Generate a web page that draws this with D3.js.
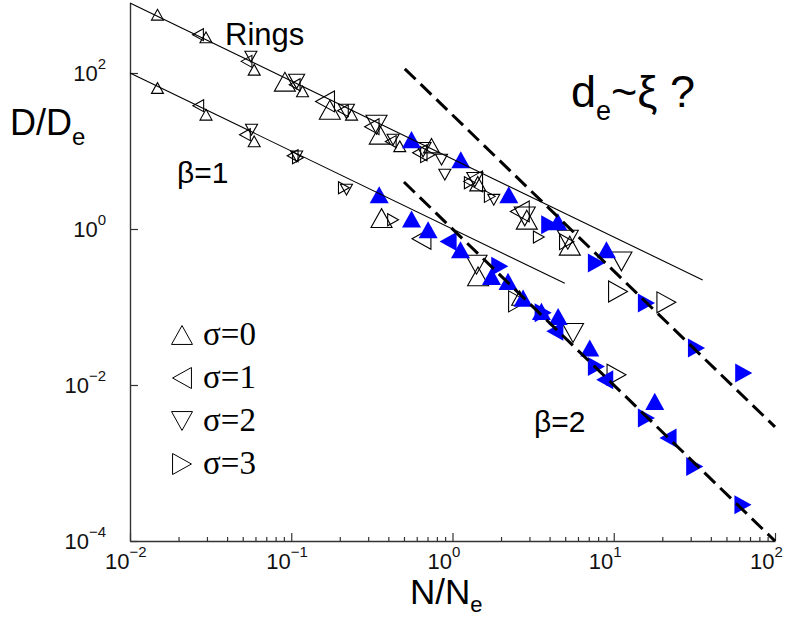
<!DOCTYPE html>
<html>
<head>
<meta charset="utf-8">
<script src="https://cdn.jsdelivr.net/npm/d3@7"></script>
<style>
  html, body { margin: 0; padding: 0; background: #fff; }
  svg { display: block; }
</style>
</head>
<body>
<svg id="chart" width="791" height="617"></svg>
<script>
// Diffusion D/De versus N/Ne on log-log axes.
// Each point: [N/Ne, D/De, sigma (0 up,1 left,2 down,3 right), symbol class]
const ringsOpen = [
  [0.0148, 559, 0, 'S'], [0.0264, 310, 1, 'S'], [0.0296, 286, 0, 'S'],
  [0.0562, 162, 2, 'S'], [0.0528, 141, 1, 'S'], [0.0589, 110, 0, 'S'],
  [0.0913, 77.3, 0, 'L'], [0.108, 78, 2, 'M'], [0.105, 70.8, 1, 'S'], [0.1175, 58.1, 0, 'S'],
  [0.162, 43.2, 1, 'L'], [0.1735, 33.8, 0, 'L'], [0.22, 32.2, 2, 'M'], [0.209, 32.9, 1, 'S'],
  [0.2365, 29.2, 0, 'S'], [0.338, 21.7, 2, 'L'], [0.316, 20.5, 1, 'M'], [0.354, 16.2, 0, 'L'],
  [0.428, 14.0, 2, 'S'], [0.414, 13.2, 1, 'S'], [0.471, 11.5, 0, 'S'],
  [0.657, 10.4, 2, 'M'], [0.627, 9.51, 1, 'M'], [0.741, 11.7, 0, 'M'], [0.703, 8.97, 3, 'M'],
  [0.855, 7.74, 2, 'S'], [0.896, 4.97, 2, 'S'],
  [1.342, 4.08, 1, 'L'], [1.375, 4.29, 2, 'M'], [1.435, 3.81, 0, 'M'], [1.28, 3.92, 3, 'S'],
  [1.703, 2.62, 3, 'S'], [1.803, 2.37, 2, 'S'],
  [2.614, 1.68, 1, 'L'], [2.807, 1.45, 2, 'L'], [2.889, 1.316, 0, 'L'], [3.43, 0.789, 3, 'S'],
  [5.19, 0.729, 2, 'L'], [5.11, 0.688, 3, 'M'], [5.34, 0.611, 0, 'L'],
  [11.16, 0.384, 2, 'L'], [10.63, 0.158, 3, 'L'], [21.2, 0.1147, 3, 'L']
];
const ringsFilled = [
  [0.557, 14.0, 0], [1.126, 7.74, 0], [2.234, 2.75, 0], [4.01, 1.135, 3], [4.50, 1.24, 0],
  [9.01, 0.543, 0], [7.81, 0.366, 3], [15.95, 0.1125, 3], [32.6, 0.0298, 3], [64.0, 0.01425, 3]
];
const chainsOpen = [
  [0.0148, 64.2, 0, 'S'], [0.0265, 38.1, 1, 'S'], [0.0296, 29.2, 0, 'S'],
  [0.0567, 18.8, 2, 'S'], [0.0516, 16.2, 1, 'S'], [0.0589, 13.3, 0, 'S'],
  [0.108, 8.53, 2, 'S'], [0.102, 8.7, 1, 'S'], [0.110, 8.2, 3, 'S'],
  [0.220, 3.19, 2, 'S'], [0.212, 3.38, 3, 'S'],
  [0.363, 1.38, 0, 'L'], [0.428, 1.316, 3, 'S'], [0.642, 0.751, 1, 'L'],
  [1.409, 0.348, 2, 'L'], [1.441, 0.247, 0, 'L'], [2.55, 0.118, 3, 'L'], [2.61, 0.130, 0, 'M'],
  [5.59, 0.0464, 2, 'L'], [10.4, 0.01355, 3, 'L']
];
const chainsFilled = [
  [0.351, 2.75, 0], [0.557, 1.344, 0], [0.706, 0.98, 0], [0.939, 0.693, 1], [1.121, 0.543, 0],
  [1.965, 0.332, 3], [1.745, 0.247, 0], [2.21, 0.213, 0], [2.74, 0.130, 0],
  [3.65, 0.0845, 3], [3.56, 0.0878, 0], [4.52, 0.0757, 0], [4.31, 0.0487, 1],
  [7.10, 0.0298, 0], [7.81, 0.0173, 3], [8.79, 0.0117, 1],
  [17.96, 0.00616, 0], [15.95, 0.00378, 3], [21.7, 0.00209, 1], [31.8, 0.000904, 3], [63.3, 0.000292, 3]
];
// Power-law guides: D ~ N^-1 (solid) and D ~ N^-2 (dashed), given by end points
const guideLines = [
  { pts: [[0.01, 790], [35.6, 0.222]], dashed: false },
  { pts: [[0.01, 100], [4.97, 0.201]], dashed: false },
  { pts: [[0.506, 113], [100, 0.0029]], dashed: true },
  { pts: [[0.5, 4], [100, 1e-4]], dashed: true }
];
const xTicks = [1e-2, 1e-1, 1e0, 1e1, 1e2];
const xTickExp = ['\u22122', '\u22121', '0', '1', '2'];
const yTicks = [1e-4, 1e-2, 1e0, 1e2];
const yTickExp = ['\u22124', '\u22122', '0', '2'];
const legendLabels = ['\u03c3=0', '\u03c3=1', '\u03c3=2', '\u03c3=3'];

const svg = d3.select('#chart');
const x = d3.scaleLog().domain([1e-2, 1e2]).range([130, 775]);
const y = d3.scaleLog().domain([1e-4, Math.pow(10, 2.9)]).range([541, 2.8]);
const symSize = d3.scaleOrdinal().domain(['S', 'M', 'L', 'F']).range([12, 16, 21, 19]);

const closed = d3.line().curve(d3.curveLinearClosed);
function triangle(sigma, w) {
  const h = w * 0.9;
  const up = [[0, -h / 2], [w / 2, h / 2], [-w / 2, h / 2]];
  const rot = [0, -90, 180, 90][sigma] * Math.PI / 180;
  return closed(up.map(([px, py]) => [px * Math.cos(rot) - py * Math.sin(rot), px * Math.sin(rot) + py * Math.cos(rot)]));
}

// axes
const axisColor = '#333';
svg.append('g').attr('transform', 'translate(0,541)')
  .call(d3.axisBottom(x).tickValues(xTicks).tickSize(-8).tickSizeOuter(0).tickFormat(''));
const minor = [];
for (let e = -2; e < 2; e++) for (let m = 2; m <= 9; m++) minor.push(m * Math.pow(10, e));
svg.append('g').attr('transform', 'translate(0,541)')
  .call(d3.axisBottom(x).tickValues(minor).tickSize(-4).tickSizeOuter(0).tickFormat(''))
  .select('.domain').remove();
svg.append('g').attr('transform', 'translate(130,0)')
  .call(d3.axisLeft(y).tickValues(yTicks).tickSize(-8).tickSizeOuter(0).tickFormat(''));
svg.selectAll('.domain').attr('stroke', axisColor).attr('stroke-width', 1.4);
svg.selectAll('.tick line').attr('stroke', axisColor).attr('stroke-width', 1.2);

const tickFont = 'Liberation Sans, Arial, sans-serif';
xTicks.forEach((v, i) => {
  const t = svg.append('text').attr('x', x(v) - 25).attr('y', 569)
    .attr('font-family', tickFont).attr('font-size', 22).attr('fill', '#111');
  t.append('tspan').text('10');
  t.append('tspan').attr('dy', -12).attr('font-size', 15).text(xTickExp[i]);
});
yTicks.forEach((v, i) => {
  const t = svg.append('text').attr('x', 106).attr('y', y(v) + 8).attr('text-anchor', 'end')
    .attr('font-family', tickFont).attr('font-size', 22).attr('fill', '#111');
  t.append('tspan').text('10');
  t.append('tspan').attr('dy', -12).attr('font-size', 15).text(yTickExp[i]);
});

// axis titles
const yt = svg.append('text').attr('x', 10).attr('y', 135)
  .attr('font-family', tickFont).attr('font-size', 36).attr('fill', '#000');
yt.append('tspan').text('D/D');
yt.append('tspan').attr('dy', 10).attr('font-size', 24).text('e');
const xt = svg.append('text').attr('x', 410).attr('y', 604)
  .attr('font-family', tickFont).attr('font-size', 35).attr('fill', '#000');
xt.append('tspan').text('N/N');
xt.append('tspan').attr('dy', 7.5).attr('font-size', 22).text('e');

// markers
const marks = svg.append('g');
function drawOpen(data) {
  marks.selectAll(null).data(data).enter().append('path')
    .attr('transform', d => `translate(${x(d[0])},${y(d[1])})`)
    .attr('d', d => triangle(d[2], symSize(d[3])))
    .attr('fill', 'none').attr('stroke', '#000').attr('stroke-width', 1.1);
}
function drawFilled(data) {
  marks.selectAll(null).data(data).enter().append('path')
    .attr('transform', d => `translate(${x(d[0])},${y(d[1])})`)
    .attr('d', d => triangle(d[2], symSize('F')))
    .attr('fill', '#0000ff').attr('stroke', 'none');
}
drawOpen(ringsOpen);
drawOpen(chainsOpen);
drawFilled(ringsFilled);
drawFilled(chainsFilled);

// guide lines on top
const line = d3.line().x(d => x(d[0])).y(d => y(d[1]));
svg.append('g').selectAll('path').data(guideLines).enter().append('path')
  .attr('d', d => line(d.pts))
  .attr('fill', 'none').attr('stroke', '#000')
  .attr('stroke-width', d => d.dashed ? 3 : 1.1)
  .attr('stroke-dasharray', d => d.dashed ? '15,7' : null);

// annotations
svg.append('text').attr('x', 225).attr('y', 45).attr('font-family', tickFont)
  .attr('font-size', 31).text('Rings');
svg.append('text').attr('x', 177).attr('y', 183).attr('font-family', tickFont)
  .attr('font-size', 30).text('\u03b2=1');
svg.append('text').attr('x', 534).attr('y', 432).attr('font-family', tickFont)
  .attr('font-size', 30).text('\u03b2=2');
const de = svg.append('text').attr('x', 571).attr('y', 107).attr('font-family', tickFont)
  .attr('font-size', 45);
de.append('tspan').text('d');
de.append('tspan').attr('dy', 13).attr('font-size', 27).text('e');
de.append('tspan').attr('dy', -13).text('~\u03be ?');

// legend
const lg = svg.append('g');
legendLabels.forEach((lab, i) => {
  const cy = 335 + i * 43;
  lg.append('path').attr('transform', `translate(182,${cy})`)
    .attr('d', triangle(i, 21)).attr('fill', 'none').attr('stroke', '#000').attr('stroke-width', 1);
  lg.append('text').attr('x', 203).attr('y', cy + 10)
    .attr('font-family', 'Liberation Serif, Times New Roman, serif').attr('font-size', 33).text(lab);
});
</script>
</body>
</html>
